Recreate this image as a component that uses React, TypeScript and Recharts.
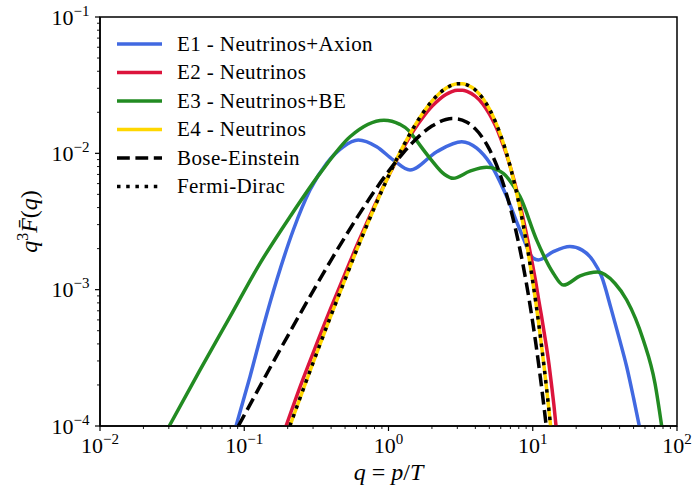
import React from 'react';
import { LineChart, Line, XAxis, YAxis, ReferenceArea, Legend } from 'recharts';

const FONT = 'Liberation Serif, DejaVu Serif';

// [q, q^3 F(q)]
const E1: [number, number][] = [
  [0.0877, 1e-4], [0.1096, 2.3e-4], [0.1355, 5.35e-4], [0.168, 1.176e-3], [0.2188, 2.74e-3],
  [0.2855, 5.38e-3], [0.3728, 8.44e-3], [0.486, 0.01118], [0.617, 0.01252], [0.828, 0.01118],
  [1.08, 8.93e-3], [1.41, 7.54e-3], [2.16, 0.01028], [3.22, 0.01216], [4.09, 0.0109],
  [5.05, 8.45e-3], [6.6, 4.81e-3], [8.16, 2.74e-3], [10.09, 1.7e-3], [10.93, 1.65e-3],
  [13.88, 1.9e-3], [18.1, 2.07e-3], [22, 1.95e-3], [26.3, 1.62e-3], [30, 1.25e-3],
  [35, 7.2e-4], [40, 4.3e-4], [44.8, 2.72e-4], [50, 1.6e-4], [54.8, 1e-4],
];

const E2: [number, number][] = [
  [0.195, 1e-4], [0.25, 2.08e-4], [0.3, 3.43e-4], [0.4, 7.41e-4], [0.5, 1.31e-3], [0.6, 2.08e-3],
  [0.7, 3.02e-3], [0.85, 4.74e-3], [1, 6.81e-3], [1.25, 0.01068], [1.5, 0.01481], [1.75, 0.01868],
  [2, 0.02209], [2.25, 0.0249], [2.5, 0.027], [2.75, 0.02838], [3, 0.029], [3.25, 0.02903],
  [3.5, 0.02848], [4, 0.02623], [4.5, 0.02307], [5, 0.01949], [5.5, 0.01603], [6, 0.01284],
  [6.5, 0.01018], [7, 0.00791], [7.5, 0.00608], [8, 0.00461], [8.5, 0.00348], [9, 0.00262],
  [9.5, 0.00198], [10, 0.0015], [10.5, 1.13e-3], [11, 8.4e-4], [11.5, 6.4e-4], [12, 4.84e-4],
  [12.5, 3.7e-4], [13, 2.77e-4], [13.5, 2.0e-4], [14, 1.44e-4], [14.5, 1e-4],
];

const E3: [number, number][] = [
  [0.0302, 1e-4], [0.0493, 2.57e-4], [0.0796, 6.32e-4], [0.1286, 1.56e-3], [0.2076, 3.43e-3],
  [0.335, 7.13e-3], [0.541, 0.01324], [0.93, 0.0175], [1.2, 0.0163], [1.37, 0.0148],
  [1.486, 0.0133], [1.94, 9.2e-3], [2.45, 7.0e-3], [2.81, 6.56e-3], [3.67, 7.4e-3],
  [4.8, 7.9e-3], [6.25, 7.13e-3], [7.14, 6.03e-3], [8.16, 4.81e-3], [10.65, 2.31e-3],
  [13.88, 1.32e-3], [16.3, 1.08e-3], [21.3, 1.26e-3], [28.1, 1.345e-3], [37.2, 1.11e-3],
  [44.8, 8.4e-4], [58.4, 4.27e-4], [70.4, 2.05e-4], [78.3, 1e-4],
];

const E4: [number, number][] = [
  [0.207, 1e-4], [0.25, 1.73e-4], [0.3, 2.91e-4], [0.4, 6.5e-4], [0.5, 1.19e-3], [0.6, 1.94e-3],
  [0.7, 2.88e-3], [0.85, 4.65e-3], [1, 6.81e-3], [1.25, 0.01101], [1.5, 0.01559], [1.75, 0.02009],
  [2, 0.02414], [2.25, 0.0275], [2.5, 0.03], [2.75, 0.03164], [3, 0.03242], [3.25, 0.03244],
  [3.5, 0.03182], [4, 0.02914], [4.5, 0.02535], [5, 0.02118], [5.5, 0.01714], [6, 0.01352],
  [6.5, 0.01044], [7, 0.00791], [7.5, 0.0059], [8, 0.004347], [8.5, 0.003163], [9, 0.002277],
  [9.5, 0.001625], [10, 0.00115], [10.5, 8.07e-4], [11, 5.63e-4], [11.5, 3.9e-4], [12, 2.69e-4],
  [12.5, 1.84e-4], [13, 1.257e-4], [13.3, 1e-4],
];

const BOSE_EINSTEIN: [number, number][] = [
  [0.091, 1e-4], [0.1, 1.2e-4], [0.15, 2.64e-4], [0.2, 4.57e-4], [0.3, 9.77e-4], [0.4, 1.65e-3],
  [0.5, 2.44e-3], [0.6, 3.33e-3], [0.7, 4.28e-3], [0.8, 5.29e-3], [1, 7.37e-3], [1.25, 9.93e-3],
  [1.5, 0.01227], [2, 0.01585], [2.25, 0.01699], [2.5, 0.01769], [2.75, 0.01798], [3, 0.01791],
  [3.5, 0.0169], [4, 0.01511], [4.5, 0.01296], [5, 0.01073], [5.5, 8.64e-3], [6, 6.795e-3],
  [6.5, 5.23e-3], [7, 3.963e-3], [7.5, 2.955e-3], [8, 2.175e-3], [8.5, 1.582e-3], [9, 1.139e-3],
  [9.5, 8.13e-4], [10, 5.75e-4], [10.5, 4.04e-4], [11, 2.81e-4], [11.5, 1.95e-4], [12, 1.344e-4],
  [12.4, 1e-4],
];

const FERMI_DIRAC: [number, number][] = [
  [0.207, 1e-4], [0.25, 1.73e-4], [0.3, 2.91e-4], [0.4, 6.5e-4], [0.5, 1.19e-3], [0.6, 1.94e-3],
  [0.7, 2.88e-3], [0.85, 4.65e-3], [1, 6.81e-3], [1.25, 0.01101], [1.5, 0.01559], [1.75, 0.02009],
  [2, 0.02414], [2.25, 0.0275], [2.5, 0.03], [2.75, 0.03164], [3, 0.03242], [3.25, 0.03244],
  [3.5, 0.03182], [4, 0.02914], [4.5, 0.02535], [5, 0.02118], [5.5, 0.01714], [6, 0.01352],
  [6.5, 0.01044], [7, 0.00791], [7.5, 0.0059], [8, 0.004347], [8.5, 0.003163], [9, 0.002277],
  [9.5, 0.001625], [10, 0.00115], [10.5, 8.07e-4], [11, 5.63e-4], [11.5, 3.9e-4], [12, 2.69e-4],
  [12.5, 1.84e-4], [13, 1.257e-4], [13.3, 1e-4],
];

const X_MAJOR = [0.01, 0.1, 1, 10, 100];
const Y_MAJOR = [1e-4, 1e-3, 1e-2, 1e-1];
const MINOR_MULT = [2, 3, 4, 5, 6, 7, 8, 9];

const SERIES = [
  { key: 'e1', name: 'E1 - Neutrinos+Axion', data: E1, color: '#4169E1', dash: undefined as string | undefined, width: 3.5 },
  { key: 'e2', name: 'E2 - Neutrinos', data: E2, color: '#DC143C', dash: undefined, width: 3.5 },
  { key: 'e3', name: 'E3 - Neutrinos+BE', data: E3, color: '#228B22', dash: undefined, width: 3.5 },
  { key: 'e4', name: 'E4 - Neutrinos', data: E4, color: '#FFD700', dash: undefined, width: 3.5 },
  { key: 'be', name: 'Bose-Einstein', data: BOSE_EINSTEIN, color: '#000000', dash: '12.8 5.6', width: 3.5 },
  { key: 'fd', name: 'Fermi-Dirac', data: FERMI_DIRAC, color: '#000000', dash: '3.5 5.7', width: 3.5 },
];

const withMinor = (majors: number[]) => {
  const out: number[] = [];
  majors.forEach((m, i) => {
    out.push(m);
    if (i < majors.length - 1) MINOR_MULT.forEach((k) => out.push(+(m * k).toPrecision(6)));
  });
  return out;
};
const X_TICKS = withMinor(X_MAJOR);
const Y_TICKS = withMinor(Y_MAJOR);

const isMajor = (v: number) => Math.abs(Math.log10(v) - Math.round(Math.log10(v))) < 1e-6;
const expText = (v: number) => {
  const e = Math.round(Math.log10(v));
  return e < 0 ? '\u2212' + String(-e) : String(e);
};

const XTick = (props: any) => {
  const { x, y, payload } = props;
  const v = payload.value;
  const major = isMajor(v);
  return (
    <g>
      <line x1={x} y1={y} x2={x} y2={y + (major ? 5 : 3)} stroke="#000" strokeWidth={major ? 1.2 : 0.9} />
      {major && (
        <text x={x} y={y + 27} textAnchor="middle" style={{ fontFamily: FONT }} fontSize={22} fill="#000">
          <tspan>10</tspan>
          <tspan dy={-9} fontSize={15}>{expText(v)}</tspan>
        </text>
      )}
    </g>
  );
};

const YTick = (props: any) => {
  const { x, y, payload } = props;
  const v = payload.value;
  const major = isMajor(v);
  return (
    <g>
      <line x1={x - (major ? 5 : 3)} y1={y} x2={x} y2={y} stroke="#000" strokeWidth={major ? 1.2 : 0.9} />
      {major && (
        <text x={x - 10.5} y={y + 7.5} textAnchor="end" style={{ fontFamily: FONT }} fontSize={22} fill="#000">
          <tspan>10</tspan>
          <tspan dy={-9} fontSize={15}>{expText(v)}</tspan>
        </text>
      )}
    </g>
  );
};

const XLabel = (props: any) => {
  const vb = props.viewBox || { x: 100, y: 426, width: 577, height: 62 };
  const cx = vb.x + vb.width / 2;
  return (
    <text x={cx} y={vb.y + 54} textAnchor="middle" style={{ fontFamily: FONT }} fontSize={24} fill="#000">
      <tspan fontStyle="italic">q</tspan>
      <tspan> = </tspan>
      <tspan fontStyle="italic">p</tspan>
      <tspan>/</tspan>
      <tspan fontStyle="italic">T</tspan>
    </text>
  );
};

const YLabel = (props: any) => {
  const vb = props.viewBox || { x: 0, y: 17, width: 100, height: 409 };
  const cy = vb.y + vb.height / 2;
  const bx = 37;
  return (
    <text x={bx} y={cy} textAnchor="middle" transform={`rotate(-90, ${bx}, ${cy})`} style={{ fontFamily: FONT }} fontSize={24} fill="#000">
      <tspan fontStyle="italic">q</tspan>
      <tspan dy={-9} fontSize={16}>3</tspan>
      <tspan dy={9} fontStyle="italic">{'F\u0304'}</tspan>
      <tspan>(</tspan>
      <tspan fontStyle="italic">q</tspan>
      <tspan>)</tspan>
    </text>
  );
};

const LegendBox = () => (
  <svg width={693} height={230} style={{ position: 'absolute', left: 0, top: 0, overflow: 'visible' }}>
    {SERIES.map((s, i) => {
      const cy = 44 + 28.5 * i;
      return (
        <g key={s.key}>
          <line x1={117} x2={162} y1={cy} y2={cy} stroke={s.color} strokeWidth={s.width} strokeDasharray={s.dash} />
          <text x={177} y={cy + 6.5} style={{ fontFamily: FONT }} fontSize={21} letterSpacing={0.4} fill="#000">
            {s.name}
          </text>
        </g>
      );
    })}
  </svg>
);

export default function App() {
  return (
    <div style={{ position: 'absolute', left: 0, top: 0, width: 693, height: 488, background: '#fff', fontFamily: FONT }}>
      <LineChart width={693} height={488} margin={{ top: 17, right: 16, bottom: 0, left: 0 }}>
        <XAxis
          type="number"
          dataKey="q"
          scale="log"
          domain={[0.01, 100]}
          allowDataOverflow
          ticks={X_TICKS}
          interval={0}
          tick={<XTick />}
          tickLine={false}
          tickSize={0}
          tickMargin={0}
          axisLine={{ stroke: '#000', strokeWidth: 1.5 }}
          height={62}
          label={<XLabel />}
        />
        <YAxis
          type="number"
          scale="log"
          domain={[1e-4, 0.1]}
          allowDataOverflow
          ticks={Y_TICKS}
          interval={0}
          tick={<YTick />}
          tickLine={false}
          tickSize={0}
          tickMargin={0}
          axisLine={{ stroke: '#000', strokeWidth: 1.5 }}
          width={100}
          label={<YLabel />}
        />
        <ReferenceArea x1={0.01} x2={100} y1={1e-4} y2={0.1} fill="none" stroke="#000" strokeWidth={1.5} ifOverflow="visible" />
        {SERIES.map((s) => (
          <Line
            key={s.key}
            data={s.data.map(([q, v]) => ({ q, v }))}
            dataKey="v"
            name={s.name}
            type="monotone"
            stroke={s.color}
            strokeWidth={s.width}
            strokeDasharray={s.dash}
            dot={false}
            activeDot={false}
            isAnimationActive={false}
          />
        ))}
        <Legend
          content={<LegendBox />}
          wrapperStyle={{ left: 0, top: 0, width: 0, height: 0, margin: 0, padding: 0 }}
        />
      </LineChart>
    </div>
  );
}
